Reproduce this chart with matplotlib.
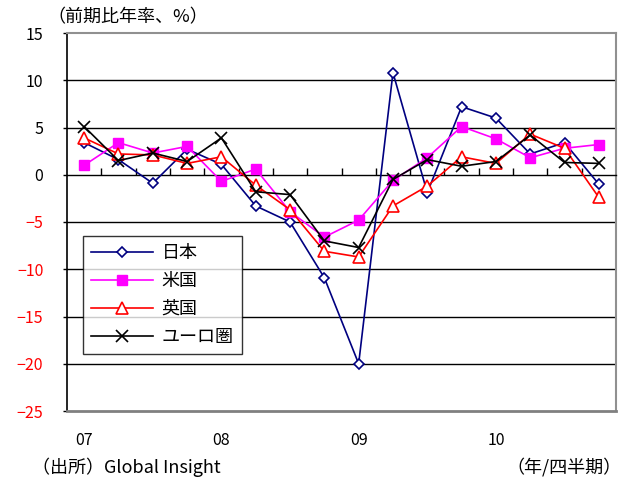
import numpy as np
import matplotlib
matplotlib.use("Agg")
from matplotlib import pyplot as plt
from matplotlib.ticker import FixedLocator, NullFormatter

plt.rcParams['font.family'] = ['Noto Sans CJK JP', 'DejaVu Sans']

quarters = ["07Q1", "07Q2", "07Q3", "07Q4", "08Q1", "08Q2", "08Q3", "08Q4",
            "09Q1", "09Q2", "09Q3", "09Q4", "10Q1", "10Q2", "10Q3", "10Q4"]
year_labels = ["07", "08", "09", "10"]

japan = [3.4, 1.6, -0.9, 2.7, 1.1, -3.3, -5.0, -10.9,
         -20.0, 10.8, -1.9, 7.2, 6.0, 2.2, 3.4, -1.0]
us = [1.0, 3.4, 2.3, 3.0, -0.7, 0.6, -3.9, -6.6,
      -4.8, -0.6, 1.8, 5.1, 3.8, 1.8, 2.8, 3.2]
uk = [3.9, 2.2, 2.1, 1.2, 1.9, -1.1, -3.7, -8.1,
      -8.7, -3.3, -1.2, 1.9, 1.2, 4.3, 2.8, -2.4]
euro = [5.1, 1.5, 2.3, 1.4, 3.9, -1.8, -2.1, -7.0,
        -7.7, -0.5, 1.6, 0.9, 1.4, 4.2, 1.3, 1.2]

x = np.arange(len(quarters))

fig = plt.figure(figsize=(6.25, 4.82), dpi=100)
ax = fig.add_axes([67/625, 1 - 411/482, (616 - 67)/625, (411 - 33)/482])

# horizontal gridlines
for v in [10, 5, -5, -10, -15, -20]:
    ax.axhline(v, color='black', lw=1.0, zorder=1)

ax.plot(x, japan, color='#000080', lw=1.2, marker='D', ms=5.5,
        mfc='white', mec='#000080', mew=1.2, label='日本', zorder=3)
ax.plot(x, us, color='#FF00FF', lw=1.2, marker='s', ms=7,
        mfc='#FF00FF', mec='#FF00FF', label='米国', zorder=3)
ax.plot(x, uk, color='#FF0000', lw=1.2, marker='^', ms=8,
        mfc='white', mec='#FF0000', mew=1.2, label='英国', zorder=3)
ax.plot(x, euro, color='black', lw=1.2, marker='x', ms=8,
        mew=1.2, label='ユーロ圏', zorder=4)

ax.set_xlim(-0.5, 15.5)
ax.set_ylim(-25, 15)
ax.set_yticks(range(-25, 16, 5))
ax.tick_params(axis='y', length=3, width=1, labelsize=11.5, pad=14)
for lbl, v in zip(ax.get_yticklabels(), range(-25, 16, 5)):
    lbl.set_color('red' if v < 0 else 'black')

# zero axis with category-boundary ticks
ax.spines['bottom'].set_position(('data', 0))
ax.spines['bottom'].set_color('black')
ax.spines['bottom'].set_linewidth(1.0)
ax.xaxis.set_major_locator(FixedLocator(np.arange(0.5, 15.5, 1)))
ax.xaxis.set_major_formatter(NullFormatter())
ax.tick_params(axis='x', direction='in', length=5, width=1)

# frame
ax.spines['left'].set_color('black')
ax.spines['left'].set_linewidth(1.2)
for s in ['top', 'right']:
    ax.spines[s].set_color('#909090')
    ax.spines[s].set_linewidth(1.5)
ax.axhline(-25, color='#808080', lw=2.0, zorder=5, clip_on=False)

# year labels at the bottom of the plot area
sec = ax.secondary_xaxis(0)
sec.set_xticks(x[::4])
sec.set_xticklabels(year_labels)
sec.tick_params(length=0, labelsize=11.5, pad=15)
sec.spines['bottom'].set_visible(False)

leg = ax.legend(loc='upper left', bbox_to_anchor=((83 - 67)/549, (411 - 236)/378),
                frameon=True, fancybox=False, edgecolor='black', fontsize=13,
                handlelength=3.4, borderpad=0.45, labelspacing=0.55,
                handletextpad=0.5, borderaxespad=0)
leg.get_frame().set_linewidth(1.0)

fig.text(47/625, 1 - 17/482, '（前期比年率、%）', fontsize=13, va='center', ha='left')
fig.text(32/625, 1 - 467/482, '（出所）Global Insight', fontsize=13, va='center', ha='left')
fig.text(622/625, 1 - 467/482, '（年/四半期）', fontsize=13, va='center', ha='right')

fig.savefig('out.png', dpi=100)
